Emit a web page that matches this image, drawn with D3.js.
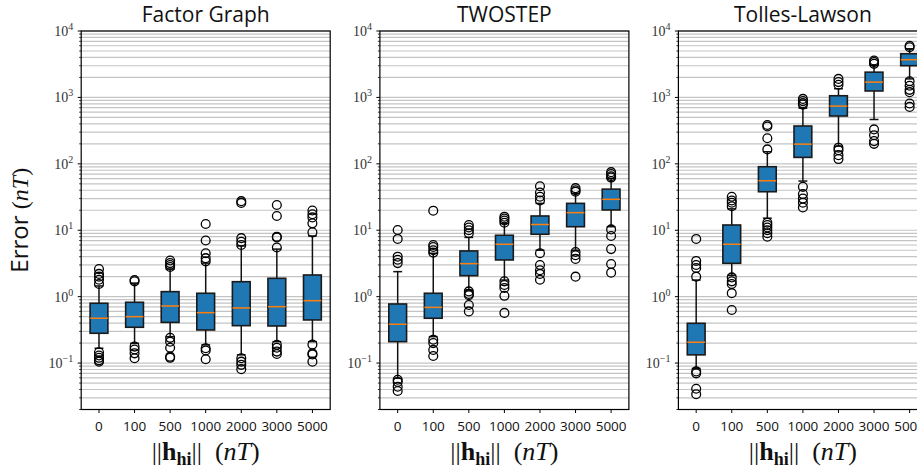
<!DOCTYPE html>
<html>
<head>
<meta charset="utf-8">
<script src="https://cdn.jsdelivr.net/npm/d3@7"></script>
<style>
  body { margin: 0; background: #fff; }
  svg { display: block; }
</style>
</head>
<body>
<div id="chart"></div>
<script>
// categories on the x axis (||h_hi|| in nT)
var categories = ["0", "100", "500", "1000", "2000", "3000", "5000"]
var methods = ["Factor Graph", "TWOSTEP", "Tolles-Lawson"]
var yTicks = [-1, 0, 1, 2, 3, 4]

// Factor Graph
var fgLow = [0.167, 0.198, 0.25, 0.188, 0.133, 0.21, 0.21]
var fgQ1 = [0.281, 0.346, 0.41, 0.315, 0.366, 0.362, 0.446]
var fgMed = [0.473, 0.50, 0.724, 0.574, 0.676, 0.707, 0.87]
var fgQ3 = [0.796, 0.823, 1.19, 1.125, 1.68, 1.89, 2.12]
var fgHigh = [1.45, 1.6, 2.6, 3.2, 5.8, 5.2, 8.2]
var fgFliers = [
    [2.6, 2.2, 2.0, 1.8, 1.55, 0.145, 0.13, 0.12, 0.11, 0.105],
    [1.78, 1.7, 0.177, 0.16, 0.14, 0.118],
    [3.5, 3.2, 3.0, 2.8, 0.24, 0.21, 0.17, 0.125, 0.12],
    [12.4, 7.0, 4.5, 3.8, 3.4, 0.167, 0.155, 0.114],
    [27.4, 25.8, 7.6, 6.7, 6.0, 0.118, 0.105, 0.094, 0.081],
    [24, 16.4, 8.0, 7.8, 5.5, 0.188, 0.17, 0.149, 0.137],
    [19.8, 17.4, 15.6, 12.7, 9.3, 0.19, 0.14, 0.135, 0.105]
]

// TWOSTEP
var tsLow = [0.059, 0.25, 1.26, 1.78, 5.0, 5.0, 11.3]
var tsQ1 = [0.21, 0.473, 2.07, 3.57, 8.7, 11.3, 20.2]
var tsMed = [0.384, 0.69, 3.14, 6.15, 12.2, 18.4, 29.2]
var tsQ3 = [0.776, 1.125, 4.88, 8.4, 16.4, 25.4, 41.6]
var tsHigh = [2.38, 4.5, 7.8, 12.7, 25.4, 36, 60]
var tsFliers = [
    [10.1, 7.4, 4.0, 3.6, 3.2, 0.056, 0.052, 0.044, 0.038],
    [19.7, 6.0, 5.6, 5.0, 4.6, 0.225, 0.2, 0.158, 0.128],
    [12, 11, 10, 9, 1.2, 1.1, 1.05, 0.75, 0.6],
    [16, 15, 14, 13, 1.7, 1.5, 1.35, 1.03, 0.57],
    [46, 37, 32, 28, 4.5, 3.0, 2.5, 2.2, 1.8],
    [43, 40, 38, 4.7, 4.2, 3.7, 2.0],
    [75, 70, 65, 62, 10.3, 8.2, 5.2, 3.1, 2.3]
]

// Tolles-Lawson
var tlLow = [0.083, 2.1, 15.2, 55, 185, 465, 1900]
var tlQ1 = [0.133, 3.18, 38, 125, 525, 1250, 3000]
var tlMed = [0.206, 6.15, 55.6, 198, 740, 1700, 3700]
var tlQ3 = [0.397, 12.0, 90.5, 371, 1060, 2400, 4550]
var tlHigh = [1.78, 21, 152, 690, 1350, 3050, 5400]
var tlFliers = [
    [7.4, 3.45, 3.0, 2.7, 2.0, 0.075, 0.07, 0.041, 0.034],
    [32, 28, 26, 23, 1.95, 1.7, 1.55, 1.13, 0.63],
    [385, 365, 243, 165, 13, 12, 11, 10, 9, 8],
    [950, 880, 820, 780, 45, 35, 30, 26, 22],
    [1900, 1700, 1550, 175, 160, 135, 118],
    [3600, 3400, 3200, 330, 270, 220, 200],
    [6000, 5700, 1750, 1500, 1300, 1200, 810, 720]
]

var panelData = [
    {low: fgLow, q1: fgQ1, med: fgMed, q3: fgQ3, high: fgHigh, fliers: fgFliers},
    {low: tsLow, q1: tsQ1, med: tsMed, q3: tsQ3, high: tsHigh, fliers: tsFliers},
    {low: tlLow, q1: tlQ1, med: tlMed, q3: tlQ3, high: tlHigh, fliers: tlFliers}
]

var width = 917, height = 472
var top_y = 31, bottom_y = 409.5
var panel_w = 249
var panel_left = [81.2, 379.9, 678.4]
var serif = "'Liberation Serif', 'DejaVu Serif', serif"
var sans = "'Open Sans', 'DejaVu Sans', sans-serif"

var svg = d3.select("#chart").append("svg").attr("width", width).attr("height", height)

var y = d3.scaleLog().domain([0.02, 1e4]).range([bottom_y, top_y])
var x = d3.scaleLinear().domain([0.5, 7.5]).range([0, panel_w])

// all minor tick values in the y range
var minor = []
for (var e = -2; e <= 3; e++){
    for (var k = 2; k <= 9; k++){
        var v = k * Math.pow(10, e)
        if (v >= 0.02 && v <= 1e4) minor.push(v)
    }
}
var major = yTicks.map(function(p){ return Math.pow(10, p) })

methods.forEach(function(name, pi){
    var d = panelData[pi]
    var g = svg.append("g").attr("transform", `translate(${panel_left[pi]},0)`)

    // grid lines
    g.selectAll(".grid").data(minor.concat(major)).enter().append("line")
        .attr("x1", 0).attr("x2", panel_w)
        .attr("y1", function(v){ return y(v) }).attr("y2", function(v){ return y(v) })
        .attr("stroke", "#c4c4c4").attr("stroke-width", 1.2)

    var bw = x(1.25) - x(1)
    var cw = x(1.125) - x(1)
    categories.forEach(function(c, i){
        var cx = x(i + 1)
        // whiskers
        g.append("line").attr("x1", cx).attr("x2", cx).attr("y1", y(d.q3[i])).attr("y2", y(d.high[i]))
            .attr("stroke", "#111").attr("stroke-width", 1.5)
        g.append("line").attr("x1", cx).attr("x2", cx).attr("y1", y(d.q1[i])).attr("y2", y(d.low[i]))
            .attr("stroke", "#111").attr("stroke-width", 1.5)
        // caps
        g.append("line").attr("x1", cx - cw).attr("x2", cx + cw).attr("y1", y(d.high[i])).attr("y2", y(d.high[i]))
            .attr("stroke", "#111").attr("stroke-width", 1.5)
        g.append("line").attr("x1", cx - cw).attr("x2", cx + cw).attr("y1", y(d.low[i])).attr("y2", y(d.low[i]))
            .attr("stroke", "#111").attr("stroke-width", 1.5)
        // box
        g.append("rect").attr("x", cx - bw).attr("width", 2 * bw)
            .attr("y", y(d.q3[i])).attr("height", y(d.q1[i]) - y(d.q3[i]))
            .attr("fill", "#1f77b4").attr("stroke", "#1a1a1a").attr("stroke-width", 1.6)
        // median
        g.append("line").attr("x1", cx - bw).attr("x2", cx + bw).attr("y1", y(d.med[i])).attr("y2", y(d.med[i]))
            .attr("stroke", "#ff7f0e").attr("stroke-width", 1.5)
        // fliers
        g.selectAll(".fl" + i).data(d.fliers[i]).enter().append("circle")
            .attr("cx", cx).attr("cy", function(v){ return y(v) }).attr("r", 4.4)
            .attr("fill", "none").attr("stroke", "#000").attr("stroke-width", 1.3)
    })

    // frame
    g.append("rect").attr("x", 0).attr("y", top_y).attr("width", panel_w).attr("height", bottom_y - top_y)
        .attr("fill", "none").attr("stroke", "#000").attr("stroke-width", 1.2)

    // y ticks
    g.selectAll(".ymin").data(minor).enter().append("line")
        .attr("x1", -2).attr("x2", 0).attr("y1", function(v){ return y(v) }).attr("y2", function(v){ return y(v) })
        .attr("stroke", "#000").attr("stroke-width", 0.8)
    g.selectAll(".ymaj").data(major).enter().append("line")
        .attr("x1", -3.5).attr("x2", 0).attr("y1", function(v){ return y(v) }).attr("y2", function(v){ return y(v) })
        .attr("stroke", "#000").attr("stroke-width", 1)
    yTicks.forEach(function(p){
        var t = g.append("text").attr("x", -8).attr("y", y(Math.pow(10, p)) + 5)
            .attr("text-anchor", "end").attr("font-family", serif).attr("font-size", 14).attr("fill", "#333")
        t.append("tspan").text("10")
        t.append("tspan").attr("dy", -6).attr("font-size", 10).text(p < 0 ? "\u2212" + (-p) : p)
    })

    // x ticks
    categories.forEach(function(c, i){
        g.append("line").attr("x1", x(i + 1)).attr("x2", x(i + 1)).attr("y1", bottom_y).attr("y2", bottom_y + 3.5)
            .attr("stroke", "#000").attr("stroke-width", 1)
        g.append("text").attr("x", x(i + 1)).attr("y", bottom_y + 21).attr("text-anchor", "middle")
            .attr("font-family", sans).attr("font-size", 13.5).attr("fill", "#111").text(c)
    })

    // title
    g.append("text").attr("x", panel_w / 2).attr("y", 22).attr("text-anchor", "middle")
        .attr("font-family", sans).attr("font-size", 21).attr("fill", "#111").text(name)

    // x label: ||h_hi|| (nT)
    var xl = g.append("text").attr("x", panel_w / 2).attr("y", 460).attr("text-anchor", "middle")
        .attr("font-family", serif).attr("font-size", 26).attr("fill", "#111")
    xl.append("tspan").text("||")
    xl.append("tspan").attr("font-weight", "bold").text("h")
    xl.append("tspan").attr("font-weight", "bold").attr("font-size", 18).attr("dy", 5).text("hi")
    xl.append("tspan").attr("dy", -5).text("||\u2002(")
    xl.append("tspan").attr("font-style", "italic").text("nT")
    xl.append("tspan").text(")")
})

// y label
var yl = svg.append("text").attr("transform", `translate(28,${(top_y + bottom_y) / 2}) rotate(-90)`)
    .attr("text-anchor", "middle").attr("font-size", 24).attr("fill", "#111")
yl.append("tspan").attr("font-family", sans).text("Error ")
yl.append("tspan").attr("font-family", serif).text("(")
yl.append("tspan").attr("font-family", serif).attr("font-style", "italic").text("nT")
yl.append("tspan").attr("font-family", serif).text(")")
</script>
</body>
</html>
